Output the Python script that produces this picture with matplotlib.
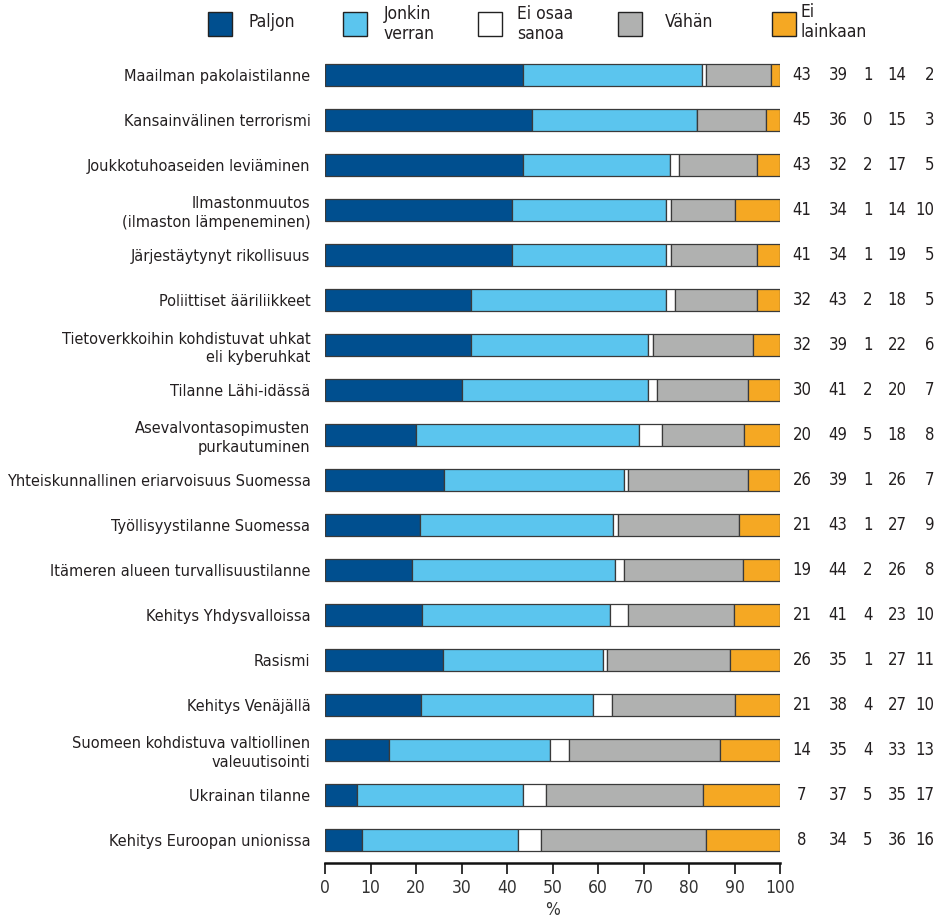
import matplotlib
matplotlib.use("Agg")
import matplotlib.pyplot as plt
import numpy as np
from matplotlib.patches import Rectangle

plt.rcParams['font.family'] = ['DejaVu Sans']
plt.rcParams['font.stretch'] = 'condensed'

categories = [
    "Maailman pakolaistilanne",
    "Kansainvälinen terrorismi",
    "Joukkotuhoaseiden leviäminen",
    "Ilmastonmuutos\n(ilmaston lämpeneminen)",
    "Järjestäytynyt rikollisuus",
    "Poliittiset ääriliikkeet",
    "Tietoverkkoihin kohdistuvat uhkat\neli kyberuhkat",
    "Tilanne Lähi-idässä",
    "Asevalvontasopimusten\npurkautuminen",
    "Yhteiskunnallinen eriarvoisuus Suomessa",
    "Työllisyystilanne Suomessa",
    "Itämeren alueen turvallisuustilanne",
    "Kehitys Yhdysvalloissa",
    "Rasismi",
    "Kehitys Venäjällä",
    "Suomeen kohdistuva valtiollinen\nvaleuutisointi",
    "Ukrainan tilanne",
    "Kehitys Euroopan unionissa",
]
series_names = ["Paljon", "Jonkin\nverran", "Ei osaa\nsanoa", "Vähän", "Ei\nlainkaan"]
paljon =      [43, 45, 43, 41, 41, 32, 32, 30, 20, 26, 21, 19, 21, 26, 21, 14, 7, 8]
jonkin =      [39, 36, 32, 34, 34, 43, 39, 41, 49, 39, 43, 44, 41, 35, 38, 35, 37, 34]
ei_osaa =     [1, 0, 2, 1, 1, 2, 1, 2, 5, 1, 1, 2, 4, 1, 4, 4, 5, 5]
vahan =       [14, 15, 17, 14, 19, 18, 22, 20, 18, 26, 27, 26, 23, 27, 27, 33, 35, 36]
ei_lainkaan = [2, 3, 5, 10, 5, 5, 6, 7, 8, 7, 9, 8, 10, 11, 10, 13, 17, 16]
colors = ["#004f8f", "#5bc5ee", "#ffffff", "#b0b1b0", "#f5a823"]
xticks = [0, 10, 20, 30, 40, 50, 60, 70, 80, 90, 100]

series = [paljon, jonkin, ei_osaa, vahan, ei_lainkaan]
data = np.array(series, dtype=float)
totals = data.sum(axis=0)
norm = data / totals * 100

W, H = 943, 923
fig = plt.figure(figsize=(W / 100, H / 100), dpi=100)
ax = fig.add_axes([325 / W, 1 - 862.5 / H, 455 / W, 810 / H])

y = np.arange(len(categories))
left = np.zeros(len(categories))
edge = "#3a3a3a"
for i, vals in enumerate(norm):
    ax.barh(y, vals, left=left, height=0.48, color=colors[i],
            edgecolor=edge, linewidth=0.9, zorder=3)
    left += vals

FS = 11.7
ax.set_ylim(len(categories) - 0.5, -0.5)
ax.set_xlim(0, 100)
ax.set_yticks(y)
ax.set_yticklabels(categories, fontsize=FS, color="#231f20", linespacing=1.3)
ax.tick_params(axis='y', length=0, pad=10.5)
ax.set_xticks(xticks)
ax.set_xticklabels([str(t) for t in xticks], fontsize=12.5, color="#333333")
ax.tick_params(axis='x', length=8, width=1.2, direction='out', pad=4, color="#111111")
for s in ["top", "right", "left"]:
    ax.spines[s].set_visible(False)
ax.spines["bottom"].set_linewidth(1.8)
ax.spines["bottom"].set_color("#111111")
ax.set_xlabel("%", fontsize=12.5, color="#333333", labelpad=3)

# value columns
col_x = [802, 838, 868, 897]
def px_to_data(px):
    return (px - 325) / 455 * 100
for j in range(len(categories)):
    for k in range(4):
        ax.text(px_to_data(col_x[k]), j, str(series[k][j]), ha='center', va='center',
                fontsize=12, color="#231f20", clip_on=False)
    ax.text(px_to_data(934), j, str(series[4][j]), ha='right', va='center',
            fontsize=12, color="#231f20", clip_on=False)

# legend
sq_x = [208, 343, 478, 618, 772]
tx_x = [248, 384, 517, 665, 800]
sq_size = 24
sq_cy = 24
for i in range(5):
    r = Rectangle((sq_x[i] / W, 1 - (sq_cy + sq_size / 2) / H), sq_size / W, sq_size / H,
                  transform=fig.transFigure, facecolor=colors[i], edgecolor="#222222",
                  linewidth=1.0)
    fig.patches.append(r)
    cy = 24 if "\n" in series_names[i] else 22
    if i == 4:
        cy = 22
    fig.text(tx_x[i] / W, 1 - cy / H, series_names[i], ha='left', va='center',
             fontsize=12.5, color="#231f20", linespacing=1.2)

fig.savefig("out.png", dpi=100)
